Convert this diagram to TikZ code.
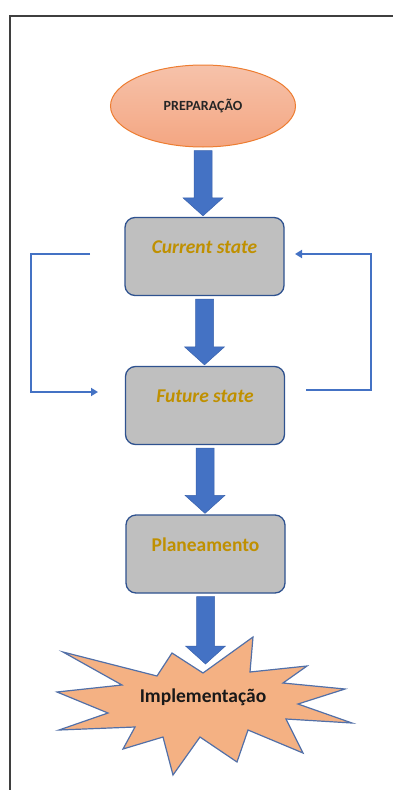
\documentclass[tikz,border=0pt]{standalone}
\usepackage{fontspec}
\setmainfont{Carlito}
\usetikzlibrary{arrows.meta}
\usetikzlibrary{calc}
\usetikzlibrary{shapes.geometric}

\definecolor{arrowblue}{HTML}{4472C4}
\definecolor{arrowedge}{HTML}{3A62AC}
\definecolor{boxgray}{HTML}{BFBFBF}
\definecolor{boxedge}{HTML}{2F528F}
\definecolor{gold}{HTML}{BF9000}
\definecolor{peach}{HTML}{F4B183}
\definecolor{staredge}{HTML}{5270A8}
\definecolor{ovaltop}{HTML}{F6C2AA}
\definecolor{ovalbottom}{HTML}{F4A682}
\definecolor{ovaledge}{HTML}{ED7D31}
\definecolor{framegray}{HTML}{3F3F3F}

\tikzset{
	stagebox/.style={draw=boxedge, line width=1.3pt, fill=boxgray, rounded corners=10pt, minimum width=159pt, minimum height=78pt},
	stagetext/.style={text=gold, font=\fontsize{19.5}{22}\selectfont\bfseries},
	loopline/.style={draw=arrowblue, line width=2.2pt, -{Triangle[length=7pt,width=8pt]}},
}

% thick block arrow from one node down to the next
\newcommand{\bigarrow}[2]{%
	\filldraw[fill=arrowblue, draw=arrowedge, line width=0.5pt]
		let \p1=(#1), \p2=(#2) in
		(\x1-9pt,\y1-3pt) -- (\x1+9pt,\y1-3pt) -- (\x1+9pt,\y2+19pt) -- (\x1+20pt,\y2+19pt)
		-- (\x1,\y2+1pt) -- (\x1-20pt,\y2+19pt) -- (\x1-9pt,\y2+19pt) -- cycle;
}

\begin{document}
\begin{tikzpicture}[x=1pt, y=-1pt]
	\useasboundingbox (0,0) rectangle (392,790);
	% page frame
	\draw[framegray, line width=1.2pt] (10,800) -- (10,16) -- (400,16);

	\node[ellipse, draw=ovaledge, line width=1pt, top color=ovaltop, bottom color=ovalbottom,
		minimum width=185pt, minimum height=82pt, font=\fontsize{14}{16}\selectfont\bfseries, text=black!85] (prep) at (203,106) {PREPARAÇÃO};

	\node[stagebox, label={[stagetext, yshift=9pt]center:\textit{Current state}}] (cur) at (204.5,256.5) {};
	\node[stagebox, label={[stagetext, yshift=9pt]center:\textit{Future state}}] (fut) at (205,405.5) {};
	\node[stagebox, label={[stagetext, yshift=9pt]center:Planeamento}] (plan) at (205.5,554) {};

	% star
	\filldraw[fill=peach, draw=staredge, line width=1.2pt, line join=miter]
		(63,652) -- (157,676) -- (172,653) -- (203,673) -- (253,637) -- (250,672) -- (307,666) -- (283,683)
		-- (345,689) -- (298,704) -- (352,723) -- (286,719) -- (303,753) -- (248,730) -- (237,762) -- (200,737)
		-- (173,775) -- (163,737) -- (123,749) -- (135,727) -- (59,730) -- (108,713) -- (57,692) -- (122,685) -- cycle;
	\node[font=\fontsize{19.5}{22}\selectfont\bfseries, text=black!90] (impl) at (203,697) {Implementação};
	\coordinate (startip) at (204,665);

	\foreach \a/\b in {prep/cur, cur/fut, fut/plan} {
		\bigarrow{\a.south}{\b.north}
	}
	\bigarrow{plan.south}{startip}

	% loops between the two states
	\coordinate (cur-out) at (90,254);
	\coordinate (fut-in) at (98,392);
	\coordinate (fut-out) at (306,390);
	\coordinate (cur-in) at (295,254);
	\draw[loopline] (cur-out) -- ++(-59,0) |- (fut-in);
	\draw[loopline] (fut-out) -- ++(65,0) |- (cur-in);
\end{tikzpicture}
\end{document}
